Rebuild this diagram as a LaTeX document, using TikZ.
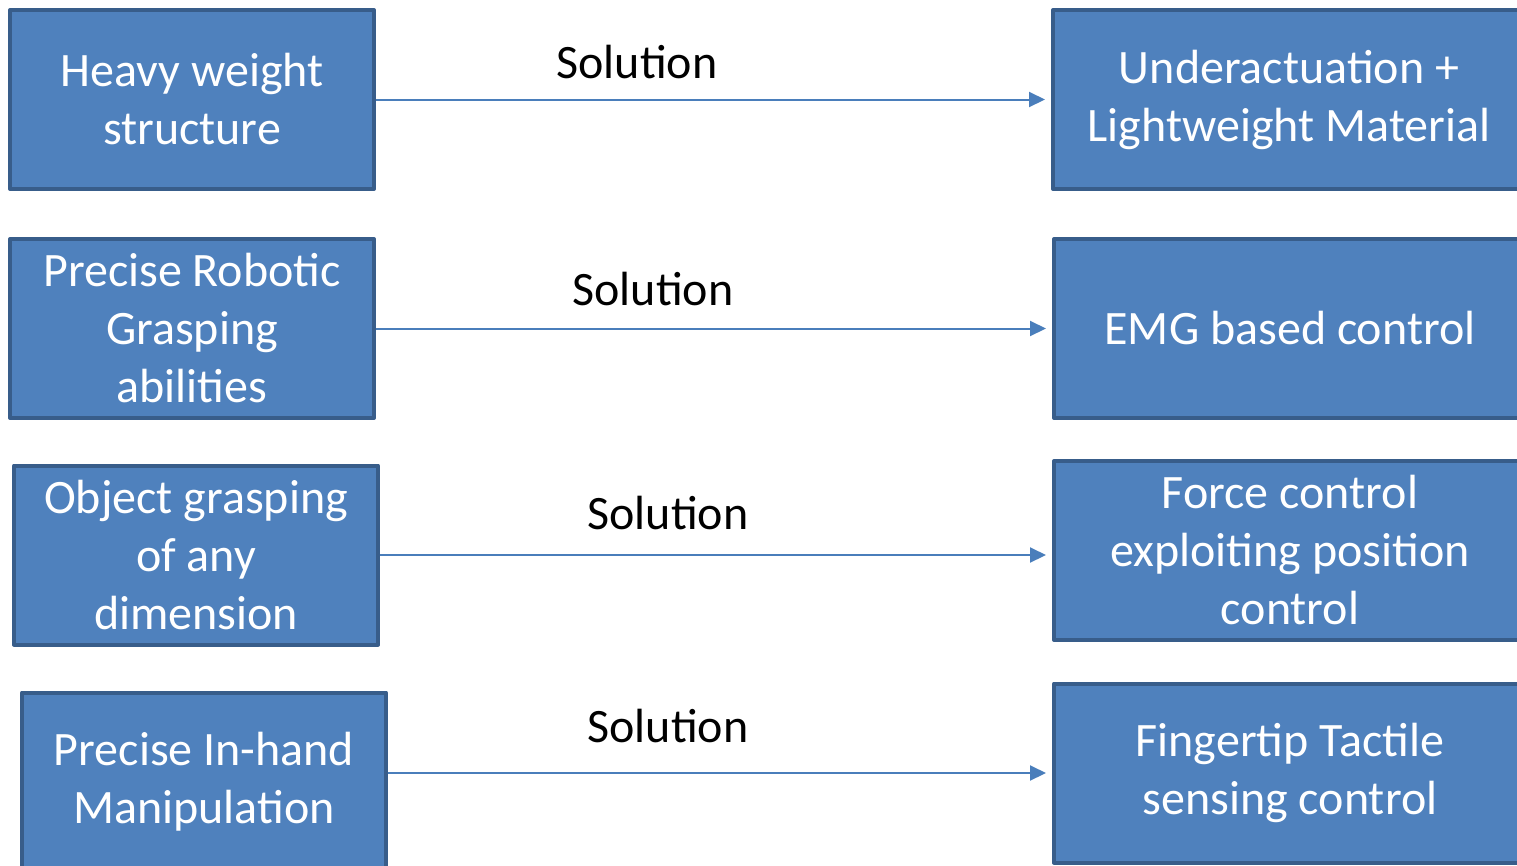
\documentclass[tikz,border=0pt]{standalone}
\usepackage{fontspec}
\setmainfont{Carlito}
\usetikzlibrary{arrows.meta}
\definecolor{boxfill}{HTML}{4F81BD}
\definecolor{boxline}{HTML}{385D8A}
\definecolor{arrowcol}{HTML}{4A7EBB}
\begin{document}
\begin{tikzpicture}[x=1pt, y=-1pt, line join=round, font=\fontsize{48}{58}\selectfont,
  box/.style={draw=boxline, fill=boxfill, line width=4pt, text=white, align=center, inner sep=0pt},
  lbox/.style={box, minimum width=364pt, minimum height=179pt},
  rbox/.style={box, minimum width=472pt, minimum height=179pt},
  link/.style={draw=arrowcol, line width=2pt, -{Triangle[length=16pt,width=15pt]}, shorten >=6pt}]
\useasboundingbox (0,0) rectangle (1517,865);
% problems
\node[lbox] (l1) at (192,99.5) {Heavy weight\\structure};
\node[lbox] (l2) at (192,328.5) {Precise Robotic\\Grasping\\abilities};
\node[lbox] (l3) at (196,555) {Object grasping\\of any\\dimension};
\node[lbox] (l4) at (204,782) {Precise In-hand\\Manipulation};
% solutions
\node[rbox] (r1) at (1289,99.5) {Underactuation +\\Lightweight Material};
\node[rbox] (r2) at (1290,328.5) {EMG based control};
\node[rbox] (r3) at (1290,550.5) {Force control\\exploiting position\\control};
\node[rbox] (r4) at (1290,773) {Fingertip Tactile\\sensing control};
% labels
\node (s1) at (637,62) {Solution};
\node (s2) at (653,289) {Solution};
\node (s3) at (668,513) {Solution};
\node (s4) at (668,726) {Solution};
\foreach \i in {1,2,3}\draw[link] (l\i.east) -- (l\i.east -| r\i.west);
\draw[link] (r4.west -| l4.east) -- (r4.west);
\end{tikzpicture}
\end{document}
